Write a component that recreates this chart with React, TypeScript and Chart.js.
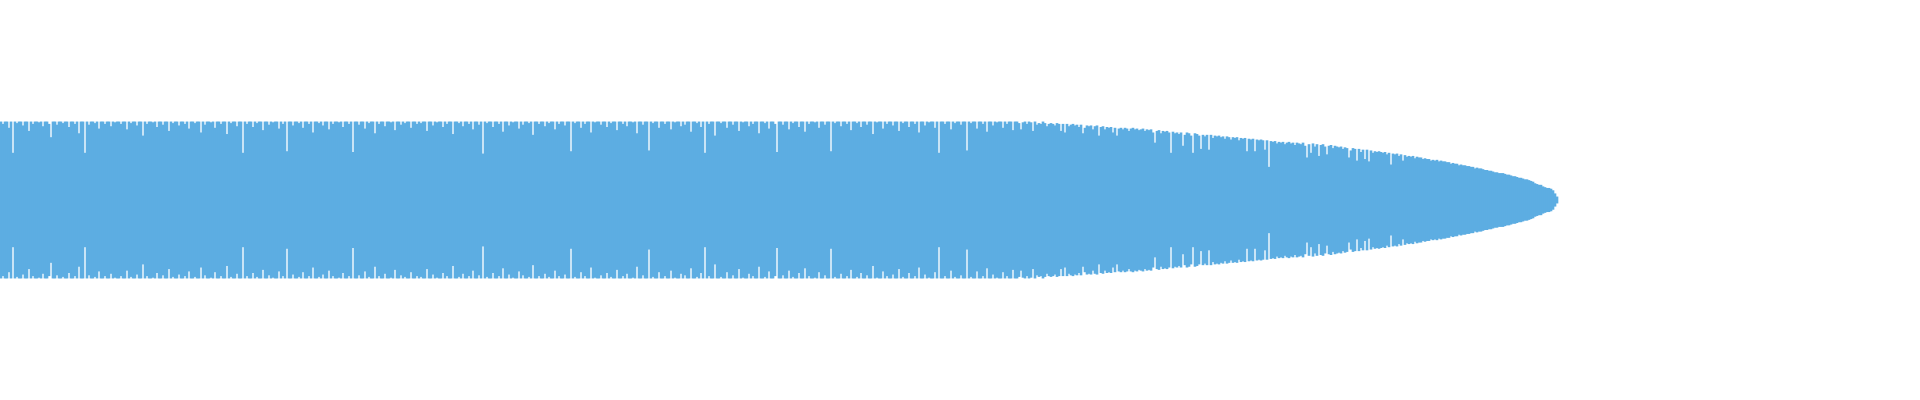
import { useEffect, useRef } from "react"
import { Chart, registerables, type ChartConfiguration } from "chart.js"

Chart.register(...registerables)

// peak amplitude per 2px column, 100 = clip level
const steadyPeaks: number[] = [
  100, 97, 100, 100, 92, 100, 60, 100, 98, 100, 100, 95, 100, 100, 88, 100, 97, 100, 100, 99, 100, 94, 100, 100, 97, 80, 100, 100, 96, 100,
  100, 98, 100, 100, 93, 100, 100, 97, 100, 85, 100, 100, 60, 100, 96, 100, 100, 98, 100, 91, 100, 100, 97, 100, 100, 94, 100, 99, 100, 100,
  97, 100, 100, 90, 100, 98, 100, 100, 95, 100, 100, 82, 100, 97, 100, 100, 99, 100, 93, 100, 100, 96, 100, 100, 88, 100, 98, 100, 100, 95,
  100, 100, 97, 100, 91, 100, 100, 98, 100, 100, 86, 100, 96, 100, 100, 99, 100, 92, 100, 100, 97, 100, 100, 84, 100, 98, 100, 100, 94, 100,
  100, 60, 100, 97, 100, 100, 93, 100, 98, 100, 100, 89, 100, 100, 96, 100, 99, 100, 100, 91, 100, 97, 100, 62, 100, 100, 95, 100, 100, 98,
  100, 92, 100, 100, 97, 100, 86, 100, 100, 98, 100, 95, 100, 100, 90, 100, 97, 100, 100, 99, 100, 93, 100, 100, 97, 100, 61, 100, 100, 96,
  100, 100, 91, 100, 98, 100, 100, 85, 100, 97, 100, 100, 94, 100, 100, 99, 100, 89, 100, 100, 96, 100, 98, 100, 100, 92, 100, 100, 97, 100,
  98, 100, 100, 88, 100, 100, 95, 100, 99, 100, 100, 93, 100, 97, 100, 100, 84, 100, 100, 98, 100, 94, 100, 100, 97, 100, 90, 100, 100, 96,
  100, 59, 100, 98, 100, 100, 93, 100, 100, 97, 100, 87, 100, 100, 95, 100, 99, 100, 100, 91, 100, 96, 100, 100, 98, 100, 83, 100, 100, 97,
  100, 100, 94, 100, 98, 100, 100, 90, 100, 97, 100, 100, 95, 100, 100, 62, 100, 98, 100, 100, 92, 100, 97, 100, 100, 86, 100, 99, 100, 100,
  96, 100, 100, 93, 100, 98, 100, 100, 89, 100, 100, 97, 100, 94, 100, 100, 99, 100, 85, 100, 100, 96, 100, 100, 63, 100, 98, 100, 100, 92,
  100, 100, 97, 100, 100, 90, 100, 99, 100, 100, 94, 100, 96, 100, 100, 87, 100, 100, 98, 100, 93, 100, 60, 100, 97, 100, 100, 82, 100, 100,
  98, 100, 100, 92, 100, 100, 96, 100, 100, 88, 100, 99, 100, 100, 94, 100, 97, 100, 100, 85, 100, 100, 98, 100, 91, 100, 100, 97, 61, 100,
  100, 96, 100, 100, 90, 100, 98, 100, 100, 93, 100, 100, 87, 100, 97, 100, 100, 99, 100, 92, 100, 100, 96, 100, 100, 62, 100, 98, 100, 100,
  94, 100, 100, 97, 100, 89, 100, 100, 98, 100, 93, 100, 100, 96, 100, 100, 84, 100, 99, 100, 100, 91, 100, 97, 100, 100, 95, 100, 100, 88,
  100, 98, 100, 100, 93, 100, 100, 97, 100, 86, 100, 100, 95, 100, 99, 100, 100, 92, 100, 60, 100, 100, 97, 100, 100, 90, 100, 98, 100, 100,
  96, 100, 100, 63, 100, 98, 100, 100, 91, 100, 100, 97, 100, 87, 100, 100, 95, 100, 99, 100, 100, 92, 100, 97, 100, 100, 89, 100, 100, 98,
]

const fadePeaks: number[] = [
  90, 99, 100, 97, 100, 99, 88, 100, 96, 98, 97, 100, 98, 94, 97, 98, 97, 95, 98, 97, 88, 97, 86, 97, 94, 96, 97, 95, 96, 93,
  96, 85, 92, 95, 94, 95, 90, 94, 95, 82, 93, 94, 90, 93, 92, 93, 86, 92, 82, 91, 92, 90, 92, 91, 88, 91, 92, 90, 91, 89,
  90, 91, 88, 90, 89, 90, 86, 73, 88, 89, 85, 88, 87, 88, 86, 60, 87, 85, 86, 84, 86, 69, 83, 86, 85, 82, 60, 85, 84, 82,
  65, 83, 81, 83, 64, 83, 79, 82, 81, 82, 80, 81, 78, 81, 80, 77, 80, 79, 80, 76, 79, 78, 79, 62, 78, 77, 78, 62, 77, 76,
  77, 76, 64, 76, 42, 75, 74, 75, 72, 74, 73, 74, 71, 73, 74, 72, 73, 70, 73, 72, 71, 73, 69, 54, 71, 60, 72, 68, 71, 56,
  70, 71, 68, 58, 69, 70, 66, 69, 68, 67, 68, 65, 67, 66, 54, 63, 66, 65, 50, 65, 61, 64, 52, 64, 49, 63, 60, 62, 61, 62,
  61, 60, 61, 58, 60, 45, 59, 58, 59, 56, 58, 50, 57, 55, 56, 55, 56, 53, 55, 54, 54, 52, 53, 52, 52, 50, 51, 50, 51, 49,
  50, 49, 49, 48, 48, 46, 47, 46, 46, 44, 45, 44, 44, 43, 43, 42, 42, 40, 41, 40, 40, 39, 38, 38, 37, 37, 36, 35, 35, 34,
  34, 34, 33, 32, 32, 31, 30, 30, 29, 28, 28, 27, 26, 26, 25, 24, 23, 21, 20, 19, 19, 17, 16, 15, 15, 14, 12, 8, 4,
]

const SLOT_COUNT = 960
const sampleLabels: string[] = Array.from({ length: SLOT_COUNT }, (_, i) => String(i))

const WAVE_COLOR = "#5dade2"

export default function App() {
  const canvasRef = useRef<HTMLCanvasElement>(null)
  const chartRef = useRef<Chart | null>(null)

  useEffect(() => {
    document.body.style.margin = "0"
    document.body.style.overflow = "hidden"
    if (!canvasRef.current) return

    if (chartRef.current) {
      chartRef.current.destroy()
    }

    const peaks = [...steadyPeaks, ...fadePeaks]

    const config: ChartConfiguration<"bar"> = {
      type: "bar",
      data: {
        labels: sampleLabels,
        datasets: [
          {
            label: "waveform",
            data: peaks.map((v) => [-v, v] as [number, number]),
            backgroundColor: WAVE_COLOR,
            borderWidth: 0,
            barPercentage: 1,
            categoryPercentage: 1,
          },
        ],
      },
      options: {
        animation: false,
        responsive: true,
        maintainAspectRatio: false,
        layout: { padding: 0 },
        plugins: {
          legend: { display: false },
          tooltip: { enabled: false },
        },
        scales: {
          x: { display: false, grid: { display: false } },
          y: { display: false, min: -256, max: 256, grid: { display: false } },
        },
      },
    }

    chartRef.current = new Chart(canvasRef.current, config)

    return () => {
      if (chartRef.current) {
        chartRef.current.destroy()
        chartRef.current = null
      }
    }
  }, [])

  return (
    <div style={{ width: "100%", height: "400px", position: "relative" }}>
      <canvas ref={canvasRef} />
    </div>
  )
}
